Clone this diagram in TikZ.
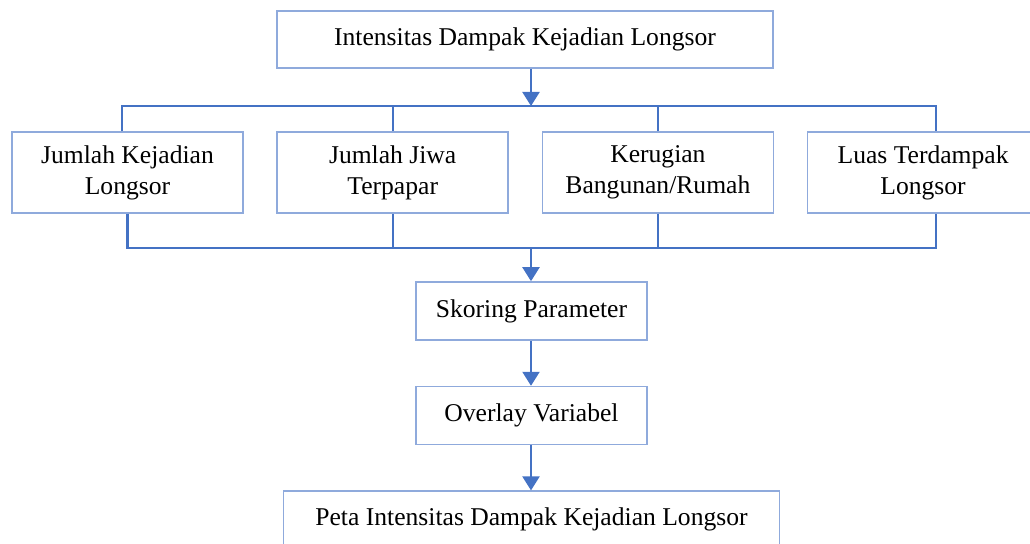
\documentclass[tikz,border=0pt]{standalone}
\usepackage{fontspec}
\setmainfont{Liberation Serif}
\usepackage{tikz}
\usetikzlibrary{arrows.meta,positioning,calc}
\definecolor{linkblue}{HTML}{4472C4}
\definecolor{edgeblue}{HTML}{8FAADC}
\tikzset{
  basebox/.style={draw=edgeblue, line width=0.8pt, align=center, inner sep=2pt, font=\fontsize{12.8}{15.5}\selectfont},
  topbox/.style={basebox, minimum width=248pt, minimum height=28.5pt},
  parambox/.style={basebox, minimum width=115.5pt, minimum height=40.5pt},
  stepbox/.style={basebox, minimum width=115.5pt, minimum height=29pt},
  link/.style={linkblue, line width=1.1pt},
  arrow/.style={link, -{Triangle[length=7pt, width=8.5pt]}}
}

\begin{document}
\begin{tikzpicture}[x=0.5pt, y=-0.5pt, node distance=16.3pt]
    \useasboundingbox (0,0) rectangle (1030,544);
    \clip (0,0) rectangle (1030,544);

    \node[topbox] (intens) at (525,39.5) {Intensitas Dampak Kejadian Longsor};
    \node[parambox] (kejadian) at (127.5,172.5) {Jumlah Kejadian\\Longsor};
    \node[parambox, right=of kejadian] (jiwa) {Jumlah Jiwa\\Terpapar};
    \node[parambox, right=of jiwa] (kerugian) {Kerugian\\Bangunan/Rumah};
    \node[parambox, right=of kerugian] (luas) {Luas Terdampak\\Longsor};
    \node[stepbox] (skoring) at (531.5,311) {Skoring Parameter};
    \node[stepbox, below=22.5pt of skoring] (overlay) {Overlay Variabel};
    \node[topbox, below=22.5pt of overlay] (peta) {Peta Intensitas Dampak Kejadian Longsor};

    % bar above and below the parameters
    \coordinate (topmid) at (531,106);
    \coordinate (topleft) at (122,106);
    \coordinate (topright) at (936,106);
    \coordinate (botmid) at (531,248);
    \coordinate (botleft) at (127.5,248);
    \coordinate (botright) at (936,248);

    \draw[arrow] (intens.south -| topmid) -- (topmid);
    \draw[link] (kejadian.north -| topleft) -- (topleft) -- (topright) -- (luas.north -| topright);
    \draw[link] (jiwa.north) -- (jiwa.north |- topleft);
    \draw[link] (kerugian.north) -- (kerugian.north |- topleft);

    \draw[link] (kejadian.south) -- (botleft) -- (botright) -- (luas.south -| botright);
    \draw[link] (jiwa.south) -- (jiwa.south |- botleft);
    \draw[link] (kerugian.south) -- (kerugian.south |- botleft);

    \draw[arrow] (botmid) -- (skoring.north -| botmid);
    \draw[arrow] (skoring.south -| botmid) -- (overlay.north -| botmid);
    \draw[arrow] (overlay.south -| botmid) -- (peta.north -| botmid);
  \end{tikzpicture}
\end{document}
